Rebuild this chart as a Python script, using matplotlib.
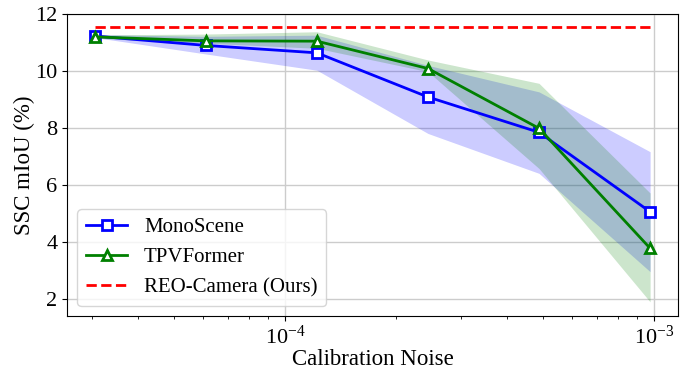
import matplotlib
matplotlib.use('Agg')
import matplotlib.pyplot as plt
import numpy as np

plt.rcParams['font.family'] = ['Liberation Serif', 'DejaVu Serif']
plt.rcParams['mathtext.fontset'] = 'stix'

# Calibration noise levels (2^-15 ... 2^-10)
noise = [2**-15, 2**-14, 2**-13, 2**-12, 2**-11, 2**-10]

# MonoScene: mean and band
mono_mean = [11.23, 10.90, 10.64, 9.09, 7.85, 5.06]
mono_low = [11.18, 10.60, 10.03, 7.81, 6.41, 2.96]
mono_high = [11.28, 11.22, 11.26, 10.20, 9.27, 7.17]

# TPVFormer: mean and band
tpv_mean = [11.20, 11.06, 11.05, 10.09, 7.99, 3.78]
tpv_low = [11.15, 10.98, 10.80, 9.98, 6.58, 1.90]
tpv_high = [11.27, 11.30, 11.38, 10.39, 9.57, 5.72]

# REO-Camera (constant)
reo_value = 11.54

fig = plt.figure(figsize=(6.91, 3.71), dpi=100)
ax = fig.add_axes([0.097, 0.148, 0.884, 0.814])

ax.fill_between(noise, mono_low, mono_high, color='blue', alpha=0.2, linewidth=0)
ax.fill_between(noise, tpv_low, tpv_high, color='green', alpha=0.2, linewidth=0)

ax.plot(noise, mono_mean, color='blue', marker='s', markersize=7,
        markerfacecolor='white', markeredgewidth=2, linewidth=2, label='MonoScene')
ax.plot(noise, tpv_mean, color='green', marker='^', markersize=7,
        markerfacecolor='white', markeredgewidth=2, linewidth=2, label='TPVFormer')
ax.plot([noise[0], noise[-1]], [reo_value, reo_value], color='red',
        linestyle='--', linewidth=2, label='REO-Camera (Ours)')

ax.set_xscale('log')
ax.set_ylim(1.4, 12)
ax.set_yticks([2, 4, 6, 8, 10, 12])
ax.grid(True, color='#cccccc', linewidth=1)
ax.set_axisbelow(True)

ax.set_xlabel('Calibration Noise', fontsize=16.5, labelpad=0)
ax.set_ylabel('SSC mIoU (%)', fontsize=16.5, labelpad=0)
ax.tick_params(labelsize=16)

ax.legend(loc='lower left', fontsize=15)

fig.savefig('out.png', dpi=100)
